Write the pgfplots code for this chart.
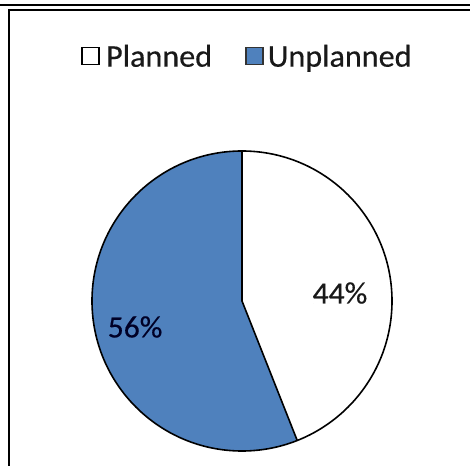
\documentclass[border=0pt]{standalone}
\usepackage{pgfplots}
\pgfplotsset{compat=1.18}
\usepackage{pgfplotstable}
\usepackage{fontspec}
\setmainfont{Carlito}[FakeStretch=1.02, FakeBold=0.4]
\definecolor{pieblue}{RGB}{79,129,189}
\pgfplotstableread{
label value
Planned 44
Unplanned 56
}\piedata
\pgfplotstablegetelem{0}{value}\of\piedata
\let\planned\pgfplotsretval
\pgfplotstablegetelem{1}{value}\of\piedata
\let\unplanned\pgfplotsretval
\begin{document}
\begin{tikzpicture}
\path[use as bounding box, clip] (0,0) rectangle (470bp,466bp);
\fill[white] (0,0) rectangle (470bp,466bp);
% frame lines
\draw[line width=2bp] (0,460.5bp) -- (470bp,460.5bp);
\draw[line width=1.7bp] (8.7bp,456bp) -- (470bp,456bp);
\draw[line width=2bp] (8.7bp,456.8bp) -- (8.7bp,0);
\begin{axis}[
  at={(242bp,165bp)}, anchor=center,
  x=150bp, y=150bp,
  xmin=-1, xmax=1, ymin=-1, ymax=1,
  hide axis, clip=false,
  legend columns=2,
  legend style={at={(axis description cs:0.515,1.315)}, anchor=center,
    draw=none, fill=none, inner sep=0pt,
    font=\fontsize{31.5bp}{34bp}\selectfont,
    nodes={inner sep=0pt, anchor=west, text=black!90},
    /tikz/every even column/.append style={column sep=33bp}},
  legend image code/.code={\draw[#1, line width=1.7bp] (0bp,-8bp) rectangle (17bp,9bp);},
  legend cell align=left,
]
\addlegendimage{draw=black, fill=white}
\addlegendentry{\hspace{6bp}Planned}
\addlegendimage{draw=black!80, fill=pieblue}
\addlegendentry{\hspace{4bp}Unplanned}
\pgfmathsetmacro{\ex}{cos(90-3.6*\planned)}
\pgfmathsetmacro{\ey}{sin(90-3.6*\planned)}
% Planned slice: clockwise from top
\fill[white] (axis cs:0,0) -- (axis cs:0,1) arc[start angle=90, end angle={90-3.6*\planned}, radius=150bp] -- cycle;
% Unplanned slice: counter-clockwise from top
\fill[pieblue] (axis cs:0,0) -- (axis cs:0,1) arc[start angle=90, end angle={90+3.6*\unplanned}, radius=150bp] -- cycle;
\draw[line width=1.6bp, black] (axis cs:0,0) circle[radius=150bp];
\draw[line width=1.6bp, black] (axis cs:0,1) -- (axis cs:0,0) -- (axis cs:\ex,\ey);
\node[font=\fontsize{31bp}{33bp}\selectfont, text=black!90] at (axis cs:0.653,0.053) {\planned\%};
\node[font=\fontsize{31bp}{33bp}\selectfont, text=black!85!blue] at (axis cs:-0.713,-0.173) {\unplanned\%};
\end{axis}
\end{tikzpicture}
\end{document}
